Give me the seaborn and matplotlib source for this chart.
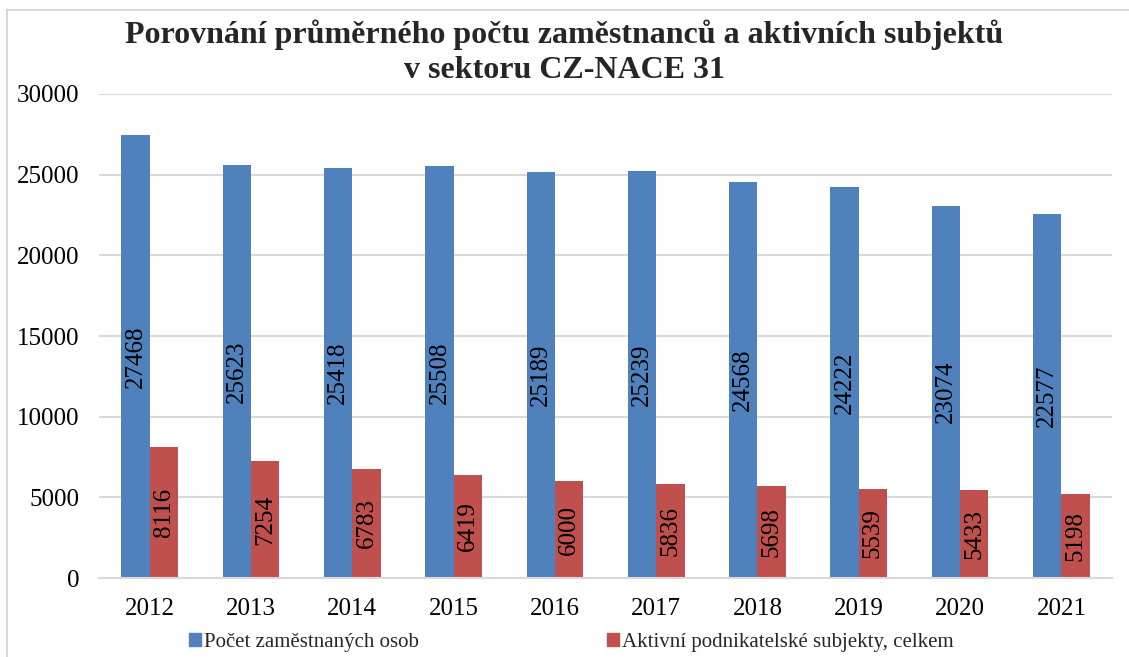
import pandas as pd
import matplotlib.pyplot as plt
import matplotlib.patches as mpatches
import seaborn as sns

# Data
years = ['2012', '2013', '2014', '2015', '2016', '2017', '2018', '2019', '2020', '2021']
employees = [27468, 25623, 25418, 25508, 25189, 25239, 24568, 24222, 23074, 22577]
subjects = [8116, 7254, 6783, 6419, 6000, 5836, 5698, 5539, 5433, 5198]
series_names = ['Počet zaměstnaných osob', 'Aktivní podnikatelské subjekty, celkem']
colors = ['#4F81BD', '#C0504D']

df = pd.DataFrame({
    'year': years * 2,
    'value': employees + subjects,
    'series': [series_names[0]] * len(years) + [series_names[1]] * len(years),
})

sns.set_theme(style='white')
plt.rcParams['font.family'] = ['Liberation Serif', 'DejaVu Serif']

fig = plt.figure(figsize=(11.29, 6.57), dpi=100)
ax = fig.add_axes([0.0877, 0.120, 0.8973, 0.737])

sns.barplot(data=df, x='year', y='value', hue='series', palette=colors,
            width=0.56, gap=0, saturation=1, linewidth=0, ax=ax, legend=False)

# rotated value labels centred in each bar
for container in ax.containers:
    ax.bar_label(container, labels=[f'{int(v)}' for v in container.datavalues],
                 label_type='center', rotation=90, fontsize=18, color='black')

ax.set_ylim(0, 30000)
ax.set_yticks(range(0, 30001, 5000))
ax.yaxis.grid(True, color='#D9D9D9', linewidth=1.5)
ax.set_axisbelow(True)
ax.set_xlabel('')
ax.set_ylabel('')
ax.tick_params(axis='both', length=0, labelsize=18, colors='black')
ax.tick_params(axis='x', pad=14)
ax.tick_params(axis='y', pad=14)
for s in ['top', 'right', 'left']:
    ax.spines[s].set_visible(False)
ax.spines['bottom'].set_color('#D9D9D9')
ax.spines['bottom'].set_linewidth(1.5)

fig.suptitle('Porovnání průměrného počtu zaměstnanců a aktivních subjektů\nv sektoru CZ-NACE 31',
             x=0.5, y=0.97, fontsize=23, fontweight='bold', linespacing=1.25)

handles = [mpatches.Patch(color=c, label=n) for c, n in zip(colors, series_names)]
fig.legend(handles=handles, loc='center', bbox_to_anchor=(0.506, 0.022), ncol=2,
           frameon=False, fontsize=15, handlelength=0.58, handleheight=0.58,
           handletextpad=0.15, columnspacing=9.0, borderpad=0)

# light outer frame of the chart area
fig.patches.append(mpatches.Rectangle((7 / 1129, -0.05), 1.2, 1.05 - 10 / 657,
                                      transform=fig.transFigure, fill=False,
                                      edgecolor='#D9D9D9', linewidth=1.5))

fig.savefig('out.png', dpi=100)
plt.close()
